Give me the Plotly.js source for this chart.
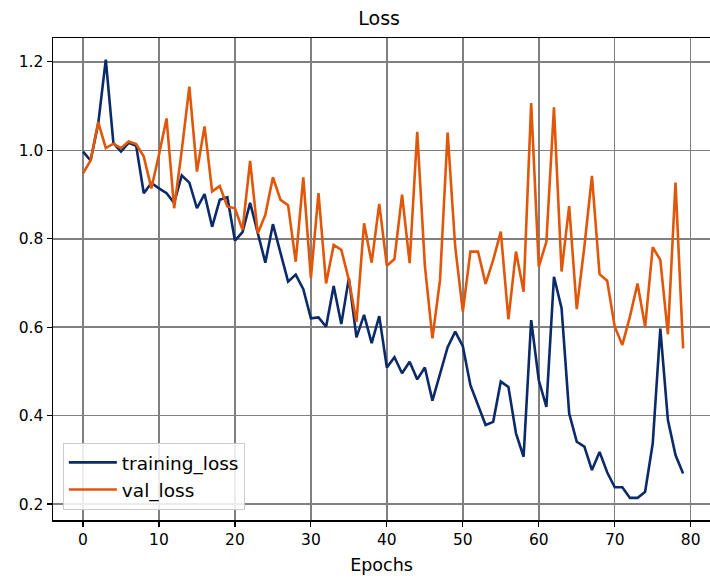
<!DOCTYPE html>
<html>
<head>
<meta charset="utf-8">
<script src="https://cdn.plot.ly/plotly-3.0.1.min.js"></script>
<style>html,body{margin:0;padding:0;background:#fff;}#chart{width:710px;height:581px;}</style>
</head>
<body>
<div id="chart"></div>
<script>
const epochs = Array.from({length: 80}, (_, i) => i);
const trainingLoss = [
  0.997, 0.977, 1.060, 1.205, 1.016, 0.997, 1.017, 1.010, 0.903, 0.926,
  0.914, 0.903, 0.881, 0.943, 0.927, 0.869, 0.901, 0.827, 0.888, 0.894,
  0.796, 0.815, 0.881, 0.814, 0.746, 0.833, 0.767, 0.703, 0.719, 0.686,
  0.620, 0.622, 0.601, 0.693, 0.607, 0.711, 0.577, 0.628, 0.564, 0.625,
  0.509, 0.532, 0.496, 0.522, 0.482, 0.509, 0.434, 0.496, 0.555, 0.590,
  0.557, 0.469, 0.424, 0.379, 0.386, 0.477, 0.465, 0.360, 0.307, 0.616,
  0.480, 0.420, 0.714, 0.643, 0.405, 0.341, 0.330, 0.277, 0.318, 0.272,
  0.238, 0.238, 0.214, 0.214, 0.228, 0.337, 0.597, 0.390, 0.311, 0.269
];
const valLoss = [
  0.948, 0.977, 1.064, 1.005, 1.015, 1.005, 1.020, 1.014, 0.986, 0.914,
  0.990, 1.072, 0.869, 1.000, 1.144, 0.952, 1.054, 0.907, 0.919, 0.873,
  0.869, 0.820, 0.976, 0.812, 0.854, 0.939, 0.888, 0.876, 0.748, 0.939,
  0.711, 0.903, 0.699, 0.786, 0.775, 0.707, 0.612, 0.835, 0.746, 0.879,
  0.739, 0.754, 0.900, 0.745, 1.042, 0.740, 0.575, 0.707, 1.040, 0.782,
  0.635, 0.771, 0.771, 0.698, 0.752, 0.816, 0.618, 0.771, 0.680, 1.107,
  0.737, 0.793, 1.097, 0.726, 0.874, 0.641, 0.782, 0.942, 0.720, 0.705,
  0.601, 0.560, 0.624, 0.699, 0.601, 0.781, 0.752, 0.584, 0.927, 0.552
];
const xTicks = [0, 10, 20, 30, 40, 50, 60, 70, 80];
const yTicks = [0.2, 0.4, 0.6, 0.8, 1.0, 1.2];
const yTickText = ['0.2', '0.4', '0.6', '0.8', '1.0', '1.2'];

const font = 'DejaVu Sans, Liberation Sans, sans-serif';
const traces = [
  {x: epochs, y: trainingLoss, type: 'scatter', mode: 'lines', name: 'training_loss',
   line: {color: '#0a2a6a', width: 2.6}},
  {x: epochs, y: valLoss, type: 'scatter', mode: 'lines', name: 'val_loss',
   line: {color: '#e0570a', width: 2.6}}
];
const layout = {
  width: 710, height: 581,
  margin: {l: 53, r: 0, t: 38, b: 61},
  paper_bgcolor: '#fff', plot_bgcolor: '#fff',
  font: {family: font, color: '#000', size: 15},
  title: {text: 'Loss', x: 0.534, xanchor: 'center', y: 0.969, yanchor: 'middle',
          font: {family: font, size: 19, color: '#000'}},
  xaxis: {
    range: [-3.95, 82.54], tickvals: xTicks, ticktext: xTicks.map(String),
    showgrid: true, gridcolor: '#808080', gridwidth: 1.5,
    zeroline: false, showline: true, linecolor: '#000', linewidth: 1.5, mirror: true,
    ticks: 'outside', ticklen: 5, tickwidth: 1.2, tickcolor: '#000',
    tickfont: {family: font, size: 15.5, color: '#000'},
    title: {text: 'Epochs', font: {family: font, size: 17.5, color: '#000'}, standoff: 10}
  },
  yaxis: {
    range: [0.164, 1.254], tickvals: yTicks, ticktext: yTickText,
    showgrid: true, gridcolor: '#808080', gridwidth: 1.5,
    zeroline: false, showline: true, linecolor: '#000', linewidth: 1.5, mirror: true,
    ticks: 'outside', ticklen: 5, tickwidth: 1.2, tickcolor: '#000',
    tickfont: {family: font, size: 15.5, color: '#000'}
  },
  showlegend: true,
  legend: {
    x: 0.015, y: 0.021, xanchor: 'left', yanchor: 'bottom',
    bgcolor: 'rgba(255,255,255,0.85)', bordercolor: '#cccccc', borderwidth: 1,
    font: {family: font, size: 18.5, color: '#000'},
    itemwidth: 48,
    tracegroupgap: 0
  }
};
Plotly.newPlot('chart', traces, layout, {displayModeBar: false, staticPlot: true});
</script>
</body>
</html>
